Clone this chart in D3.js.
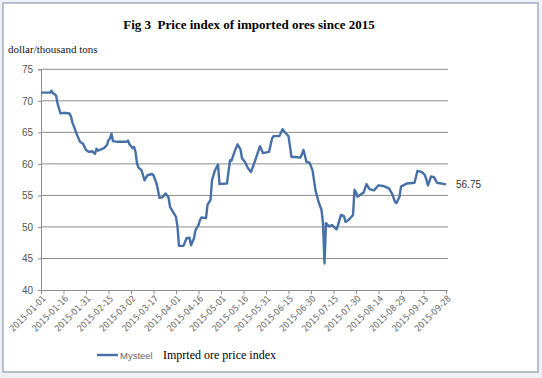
<!DOCTYPE html>
<html><head><meta charset="utf-8">
<script src="https://cdn.jsdelivr.net/npm/d3@7"></script>
<style>body{margin:0;background:#eef1f5}svg{display:block}</style></head>
<body>
<svg id="c" width="542" height="378"></svg>
<script>
const title = "Fig 3  Price index of imported ores since 2015";
const unitLabel = "dollar/thousand tons";
const seriesName = "Mysteel";
const legendCaption = "Imprted ore price index";
const lastValueLabel = "56.75";

const dates = [
"2015-01-01","2015-01-07","2015-01-08","2015-01-09","2015-01-11","2015-01-12","2015-01-14","2015-01-16","2015-01-20","2015-01-21",
"2015-01-22","2015-01-23","2015-01-25","2015-01-27","2015-01-29","2015-01-31","2015-02-02","2015-02-04","2015-02-06","2015-02-07",
"2015-02-08","2015-02-10","2015-02-12","2015-02-14","2015-02-15","2015-02-16","2015-02-17","2015-02-18","2015-02-21","2015-02-27",
"2015-02-28","2015-03-01","2015-03-03","2015-03-04","2015-03-05","2015-03-06","2015-03-07","2015-03-09","2015-03-10","2015-03-11",
"2015-03-13","2015-03-16","2015-03-17","2015-03-19","2015-03-20","2015-03-21","2015-03-23","2015-03-25","2015-03-27","2015-03-28",
"2015-03-30","2015-04-01","2015-04-02","2015-04-03","2015-04-06","2015-04-08","2015-04-10","2015-04-11","2015-04-13","2015-04-14",
"2015-04-16","2015-04-17","2015-04-18","2015-04-21","2015-04-22","2015-04-24","2015-04-25","2015-04-27","2015-04-29","2015-04-30",
"2015-05-05","2015-05-07","2015-05-08","2015-05-10","2015-05-12","2015-05-14","2015-05-15","2015-05-17","2015-05-19","2015-05-21",
"2015-05-24","2015-05-26","2015-05-27","2015-05-29","2015-06-02","2015-06-04","2015-06-05","2015-06-09","2015-06-11","2015-06-13",
"2015-06-15","2015-06-17","2015-06-20","2015-06-23","2015-06-25","2015-06-27","2015-06-29","2015-07-01","2015-07-03","2015-07-05",
"2015-07-07","2015-07-08","2015-07-09","2015-07-10","2015-07-12","2015-07-14","2015-07-15","2015-07-17","2015-07-18","2015-07-20",
"2015-07-22","2015-07-23","2015-07-25","2015-07-28","2015-07-29","2015-07-30","2015-07-31","2015-08-03","2015-08-04","2015-08-06",
"2015-08-08","2015-08-11","2015-08-14","2015-08-17","2015-08-19","2015-08-21","2015-08-23","2015-08-25","2015-08-26","2015-08-28",
"2015-08-29","2015-09-02","2015-09-07","2015-09-09","2015-09-12","2015-09-14","2015-09-16","2015-09-18","2015-09-20","2015-09-22",
"2015-09-28"];
const values = [
71.3,71.3,71.6,71.2,70.9,69.6,68.0,68.1,68.0,67.5,
66.5,65.9,64.6,63.5,63.2,62.2,61.9,62.0,61.6,62.4,
62.1,62.3,62.5,63.0,63.8,64.0,64.8,63.6,63.5,63.5,
63.7,63.1,62.5,62.7,61.9,60.1,59.4,59.0,58.2,57.4,
58.2,58.4,58.2,56.9,55.8,54.6,54.7,55.3,54.7,53.2,
52.4,51.6,50.0,47.0,47.0,48.2,48.3,47.1,48.2,49.5,
50.3,51.1,51.5,51.4,53.5,54.3,57.4,59.0,59.9,56.8,
56.9,60.6,60.5,61.9,63.1,62.3,60.9,60.3,59.3,58.7,
60.7,62.1,62.8,61.7,61.9,64.0,64.4,64.4,65.5,64.9,
64.4,61.1,61.1,61.0,62.2,60.3,60.2,59.0,55.8,54.0,
52.7,50.6,44.2,50.6,50.1,50.3,50.1,49.6,50.3,51.9,
51.7,50.8,51.1,51.9,55.9,55.5,54.8,55.3,55.4,56.8,
56.0,55.8,56.6,56.5,56.3,56.1,55.3,54.0,53.8,54.8,
56.4,56.9,57.0,58.9,58.7,58.2,56.6,58.0,57.9,57.0,
56.75];

const xTickLabels = ["2015-01-01","2015-01-16","2015-01-31","2015-02-15","2015-03-02","2015-03-17","2015-04-01",
"2015-04-16","2015-05-01","2015-05-16","2015-05-31","2015-06-15","2015-06-30","2015-07-15","2015-07-30",
"2015-08-14","2015-08-29","2015-09-13","2015-09-28"];
const yTicks = [40,45,50,55,60,65,70,75];

const parse = d3.utcParse("%Y-%m-%d");
const data = dates.map((d,i)=>({date:parse(d), value:values[i]}));

const svg = d3.select("#c");
svg.append("rect").attr("x",3).attr("y",3).attr("width",535).attr("height",369)
  .attr("fill","#ffffff").attr("stroke","#8e99ab").attr("stroke-width",1.2);

const x = d3.scaleUtc().domain([parse(xTickLabels[0]), parse(xTickLabels[xTickLabels.length-1])]).range([41,446]);
const y = d3.scaleLinear().domain([40,75]).range([290,69.3]);
const plotRight = 448;

// gridlines
svg.append("g").selectAll("line").data(yTicks.filter(t=>t>40)).join("line")
  .attr("x1",41).attr("x2",plotRight).attr("y1",d=>y(d)).attr("y2",d=>y(d))
  .attr("stroke","#8c8c8c").attr("stroke-width",1);

// y axis
const yAxis = svg.append("g").attr("transform","translate(41,0)")
  .call(d3.axisLeft(y).tickValues(yTicks).tickSize(3).tickPadding(5));
yAxis.select(".domain").attr("stroke","#8c8c8c");
yAxis.selectAll(".tick line").attr("stroke","#8c8c8c");
yAxis.selectAll("text").attr("fill","#555").style("font-family","'Liberation Sans',Arial,sans-serif").style("font-size","10px");

// x axis
const xAxis = svg.append("g").attr("transform","translate(0,290)")
  .call(d3.axisBottom(x).tickValues(xTickLabels.map(parse)).tickSize(4).tickFormat(d3.utcFormat("%Y-%m-%d")));
xAxis.select(".domain").attr("d","M41,0.5H"+plotRight).attr("stroke","#8c8c8c");
xAxis.selectAll(".tick line").attr("stroke","#8c8c8c");
xAxis.selectAll("text").attr("fill","#666")
  .style("font-family","'DejaVu Sans Condensed','Liberation Sans',Arial,sans-serif").style("font-size","9px")
  .attr("text-anchor","end").attr("dx",0).attr("dy",0)
  .attr("transform","translate(5,9) rotate(-45)").attr("y",0);

// line
const line = d3.line().x(d=>x(d.date)).y(d=>y(d.value));
svg.append("path").datum(data).attr("d",line).attr("fill","none")
  .attr("stroke","#4670a6").attr("stroke-width",2.4).attr("stroke-linejoin","round");

// end label
const last = data[data.length-1];
svg.append("text").attr("x",x(last.date)+10).attr("y",y(last.value)+4)
  .text(lastValueLabel).attr("fill","#333")
  .style("font-family","'Liberation Sans',Arial,sans-serif").style("font-size","10px");

// title
svg.append("text").attr("x",249).attr("y",29).attr("text-anchor","middle").text(title)
  .style("font-family","'Liberation Serif','Times New Roman',serif").style("font-weight","bold")
  .style("font-size","13px").attr("fill","#000").style("white-space","pre").attr("xml:space","preserve");

svg.append("text").attr("x",8).attr("y",53).text(unitLabel)
  .style("font-family","'Liberation Serif','Times New Roman',serif").style("font-size","11px").attr("fill","#111");

// legend
svg.append("line").attr("x1",97).attr("x2",118).attr("y1",355).attr("y2",355)
  .attr("stroke","#4670a6").attr("stroke-width",2.4);
svg.append("text").attr("x",120).attr("y",358.5).text(seriesName).attr("fill","#666")
  .style("font-family","'Liberation Sans',Arial,sans-serif").style("font-size","9.5px");
svg.append("text").attr("x",163).attr("y",359).text(legendCaption).attr("fill","#000")
  .style("font-family","'Liberation Serif','Times New Roman',serif").style("font-size","12px");
</script>
</body></html>
